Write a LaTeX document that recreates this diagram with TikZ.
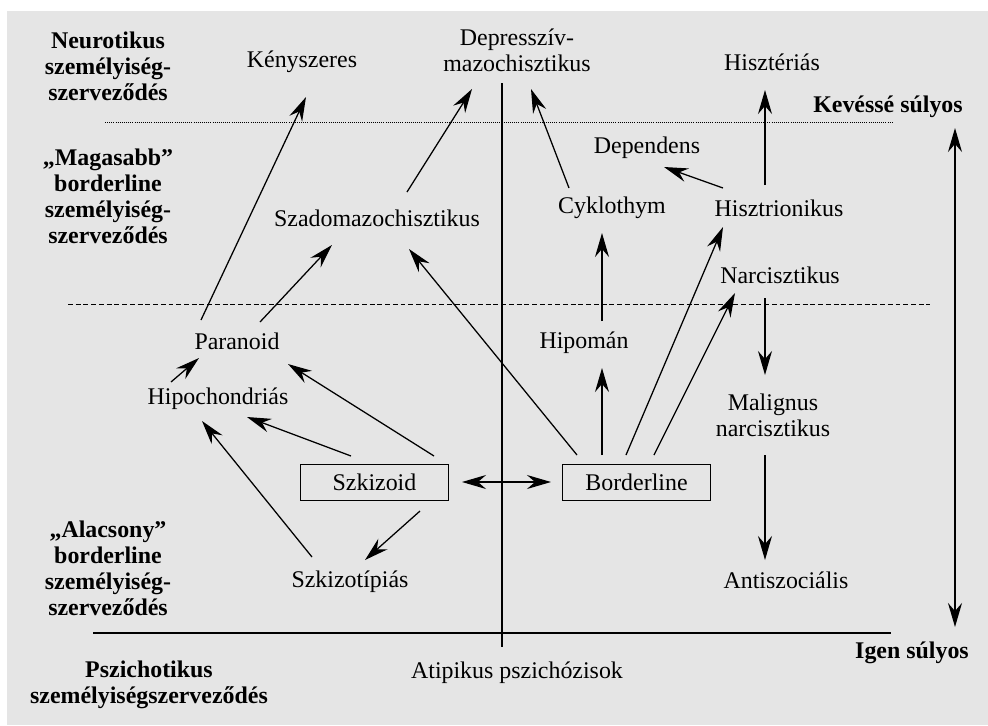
\documentclass[tikz,border=0pt]{standalone}
\usepackage{fontspec}
\setmainfont{Liberation Serif}
\usetikzlibrary{arrows.meta,calc}

\begin{document}
\begin{tikzpicture}[x=0.025cm,y=-0.025cm,
    >={Stealth[length=6mm,width=3.5mm,inset=2mm]},
    txt/.style={font=\fontsize{17}{18.5}\selectfont, align=center, inner sep=0pt},
    lvl/.style={txt, font=\fontsize{17}{18.5}\selectfont\bfseries},
    dbox/.style={txt, draw, line width=0.7pt, minimum width=3.72cm, minimum height=0.9cm},
    arr/.style={->, line width=0.9pt}]
            \useasboundingbox (0,0) rectangle (988,725);
            \fill[black!10] (7,11) rectangle (988,725);

            % levels
            \node[lvl] (neuro) at (108,66) {Neurotikus\\személyiség-\\szerveződés};
            \node[lvl] (magas) at (108,196) {„Magasabb”\\borderline\\személyiség-\\szerveződés};
            \node[lvl] (alacs) at (108,568) {„Alacsony”\\borderline\\személyiség-\\szerveződés};
            \node[lvl] (pszich) at (149,685) {Pszichotikus\\személyiségszerveződés};
            \node[lvl] (kevesse) at (888,107) {Kevéssé súlyos};
            \node[lvl] (igen) at (912,653) {Igen súlyos};

            % separators
            \draw[line width=0.5pt, dash pattern=on 0.6pt off 0.9pt] (105,122) -- (893,122);
            \draw[line width=0.6pt, dash pattern=on 3.5pt off 2pt] (68,304) -- (930,304);
            \draw[line width=0.9pt] (93,633) -- (891,633);
            \draw[line width=0.9pt] (502,83) -- (502,647);
            \draw[<->, line width=1pt] (955,128) -- (955,627);

            % disorders
            \node[txt] (kenyszeres) at (302,62) {Kényszeres};
            \node[txt] (depr) at (517,50) {Depresszív-\\mazochisztikus};
            \node[txt] (hiszterias) at (772,62) {Hisztériás};
            \node[txt] (dependens) at (647,148) {Dependens};
            \node[txt] (cyklothym) at (612,208) {Cyklothym};
            \node[txt] (hisztrion) at (779,208) {Hisztrionikus};
            \node[txt] (szado) at (377,218) {Szadomazochisztikus};
            \node[txt] (narc) at (780,275) {Narcisztikus};
            \node[txt] (paranoid) at (237,341) {Paranoid};
            \node[txt] (hipoman) at (584,343) {Hipomán};
            \node[txt] (hipoch) at (218,399) {Hipochondriás};
            \node[txt] (malignus) at (773,415) {Malignus\\narcisztikus};
            \node[dbox] (szkizoid) at (374.5,482) {Szkizoid};
            \node[dbox] (borderline) at (636.5,482) {Borderline};
            \node[txt] (szkizotip) at (350,582) {Szkizotípiás};
            \node[txt] (antisz) at (786,580) {Antiszociális};
            \node[txt] (atip) at (517,673) {Atipikus pszichózisok};

            % arrows
            \draw[arr] ($(paranoid)+(-36,-21)$) -- ($(kenyszeres)+(4,35)$);
            \draw[arr] ($(paranoid)+(23,-19)$) -- ($(szado)+(-45,27)$);
            \draw[arr] ($(szado)+(30,-26)$) -- ($(depr)+(-45,39)$);
            \draw[arr] ($(cyklothym)+(-43,-20)$) -- ($(depr)+(14,39)$);
            \draw[arr] ($(hisztrion)+(-14,-23)$) -- ($(hiszterias)+(-7,28)$);
            \draw[arr] ($(hisztrion)+(-56,-20)$) -- ($(dependens)+(17,19)$);
            \draw[arr] ($(borderline)+(-59.5,-27)$) -- ($(szado)+(32,31)$);
            \draw[arr] ($(borderline)+(-34.5,-27)$) -- ($(hipoman)+(18,25)$);
            \draw[arr] ($(borderline)+(-10.5,-27)$) -- ($(hisztrion)+(-56,19)$);
            \draw[arr] ($(borderline)+(17.5,-27)$) -- ($(narc)+(-45,18)$);
            \draw[arr] ($(hipoman)+(18,-22)$) -- ($(cyklothym)+(-10,25)$);
            \draw[arr] ($(narc)+(-15,23)$) -- ($(malignus)+(-8,-40)$);
            \draw[arr] ($(malignus)+(-8,40)$) -- ($(antisz)+(-21,-20)$);
            \draw[<->, line width=0.9pt] ($(szkizoid)+(87.5,0)$) -- ($(borderline)+(-85.5,0)$);
            \draw[arr] ($(szkizoid)+(59.5,-26)$) -- ($(paranoid)+(51,23)$);
            \draw[arr] ($(szkizoid)+(-23.5,-26)$) -- ($(hipoch)+(29,18)$);
            \draw[arr] ($(szkizotip)+(-38,-25)$) -- ($(hipoch)+(-16,22)$);
            \draw[arr] ($(szkizoid)+(45.5,29)$) -- ($(szkizotip)+(15,-22)$);
            \draw[arr] ($(hipoch)+(-47,-17)$) -- ($(paranoid)+(-38,17)$);
        \end{tikzpicture}
\end{document}
